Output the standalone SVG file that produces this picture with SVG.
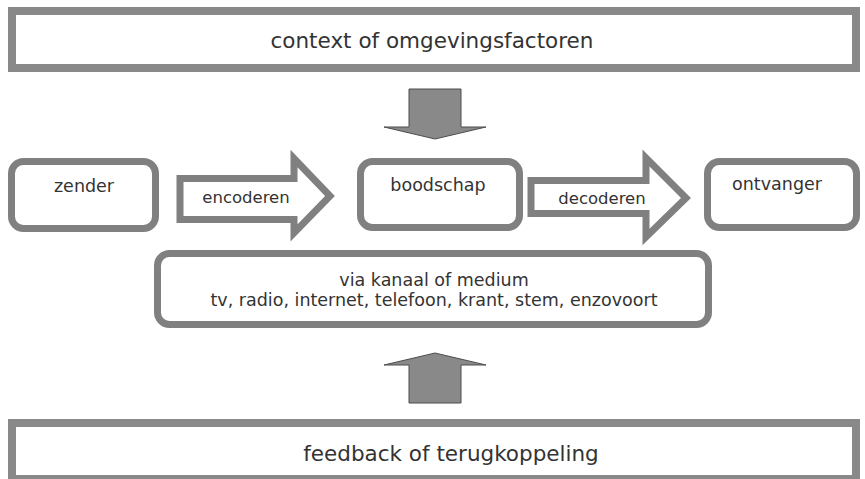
<svg xmlns="http://www.w3.org/2000/svg" width="865" height="479" viewBox="0 0 865 479">
  <style>
    .band { fill: #ffffff; stroke: #898989; stroke-width: 8; }
    .node { fill: #ffffff; stroke: #808080; stroke-width: 7; }
    .hollow { fill: #ffffff; stroke: #808080; stroke-width: 7; stroke-linejoin: miter; stroke-miterlimit: 10; }
    .solid { fill: #898989; stroke: #4d4d4d; stroke-width: 1; }
    text { font-family: "DejaVu Sans", Verdana, sans-serif; fill: #333333; text-anchor: middle; }
    .big { font-size: 21.5px; }
    .lbl { font-size: 17.5px; }
    .small { font-size: 16.5px; }
    .note { font-size: 17.5px; }
  </style>

  <!-- context band -->
  <g id="context">
    <rect class="band" x="12" y="11" width="844" height="57"/>
    <text class="big" x="432" y="48">context of omgevingsfactoren</text>
  </g>

  <!-- feedback band -->
  <g id="feedback">
    <rect class="band" x="12" y="423" width="844" height="56"/>
    <text class="big" x="451" y="461">feedback of terugkoppeling</text>
  </g>

  <g id="zender">
    <rect class="node" x="11.5" y="161.5" width="144" height="67" rx="12"/>
    <text class="lbl" x="84" y="192">zender</text>
  </g>

  <g id="boodschap">
    <rect class="node" x="360.5" y="161.5" width="159" height="66" rx="12"/>
    <text class="lbl" x="438" y="191">boodschap</text>
  </g>

  <g id="ontvanger">
    <rect class="node" x="707.5" y="161.5" width="149" height="66" rx="12"/>
    <text class="lbl" x="777" y="190">ontvanger</text>
  </g>

  <g id="medium">
    <rect class="node" x="157.5" y="253.5" width="551" height="71" rx="12"/>
    <text class="note" x="434" y="286">via kanaal of medium</text>
    <text class="note" x="434" y="306">tv, radio, internet, telefoon, krant, stem, enzovoort</text>
  </g>

  <!-- connectors -->
  <g id="connectors">
    <g id="encoderen">
      <polygon class="hollow" points="180,178.5 294,178.5 294,158.5 330,196 294,233 294,219.5 180,219.5"/>
      <text class="small" x="246" y="203">encoderen</text>
    </g>
    <g id="decoderen">
      <polygon class="hollow" points="531,180.5 646,180.5 646,158 686,198 646,237 646,213.5 531,213.5"/>
      <text class="small" x="602" y="204">decoderen</text>
    </g>
    <polygon id="context-down" class="solid" points="409,89 461,89 461,127 486,127 435,139 384,127 409,127"/>
    <polygon id="feedback-up" class="solid" points="409,403 461,403 461,365 486,365 435,353 384,365 409,365"/>
  </g>
</svg>
